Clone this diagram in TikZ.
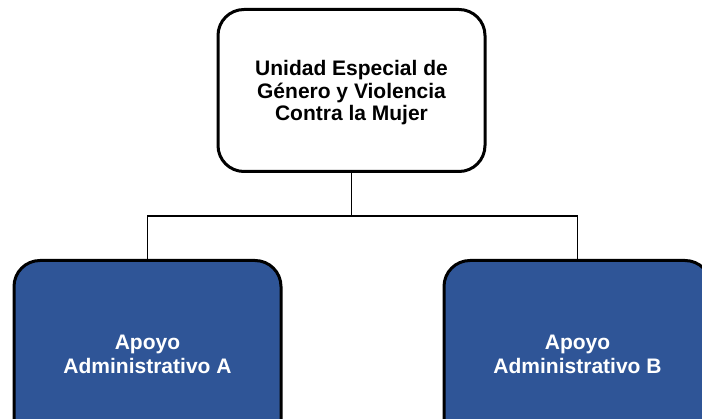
\documentclass[tikz,border=0pt]{standalone}
\usepackage{fontspec}
\setmainfont{Liberation Sans}
\definecolor{boxblue}{HTML}{2F5597}
\begin{document}
\begin{tikzpicture}[x=1pt,y=1pt,
  unitbox/.style={draw=black, line width=3pt, rounded corners=26pt, align=center, inner sep=0pt},
  topbox/.style={unitbox, fill=white, text=black, minimum width=267pt, minimum height=162pt,
    font=\fontsize{21}{22.5}\selectfont\bfseries},
  subbox/.style={unitbox, fill=boxblue, text=white, minimum width=267pt, minimum height=187pt,
    font=\fontsize{21}{24}\selectfont\bfseries},
  link/.style={draw=black, line width=1.5pt}]
\useasboundingbox (0,0) rectangle (702,-419);
\begin{scope}
\clip (0,0) rectangle (702,-419);
\node[topbox] (top) at (351.5,-90.5) {\rule{0pt}{19.5pt}Unidad Especial de\\Género y Violencia\\Contra la Mujer};
\node[subbox] (a) at (147.5,-354) {Apoyo\\Administrativo A};
\node[subbox] (b) at (577.5,-354) {Apoyo\\Administrativo B};
\coordinate (j) at (351.5,-216);
\draw[link] (top.south) -- (j);
\draw[link] (a.north) |- (j) -| (b.north);
\end{scope}
\end{tikzpicture}
\end{document}
